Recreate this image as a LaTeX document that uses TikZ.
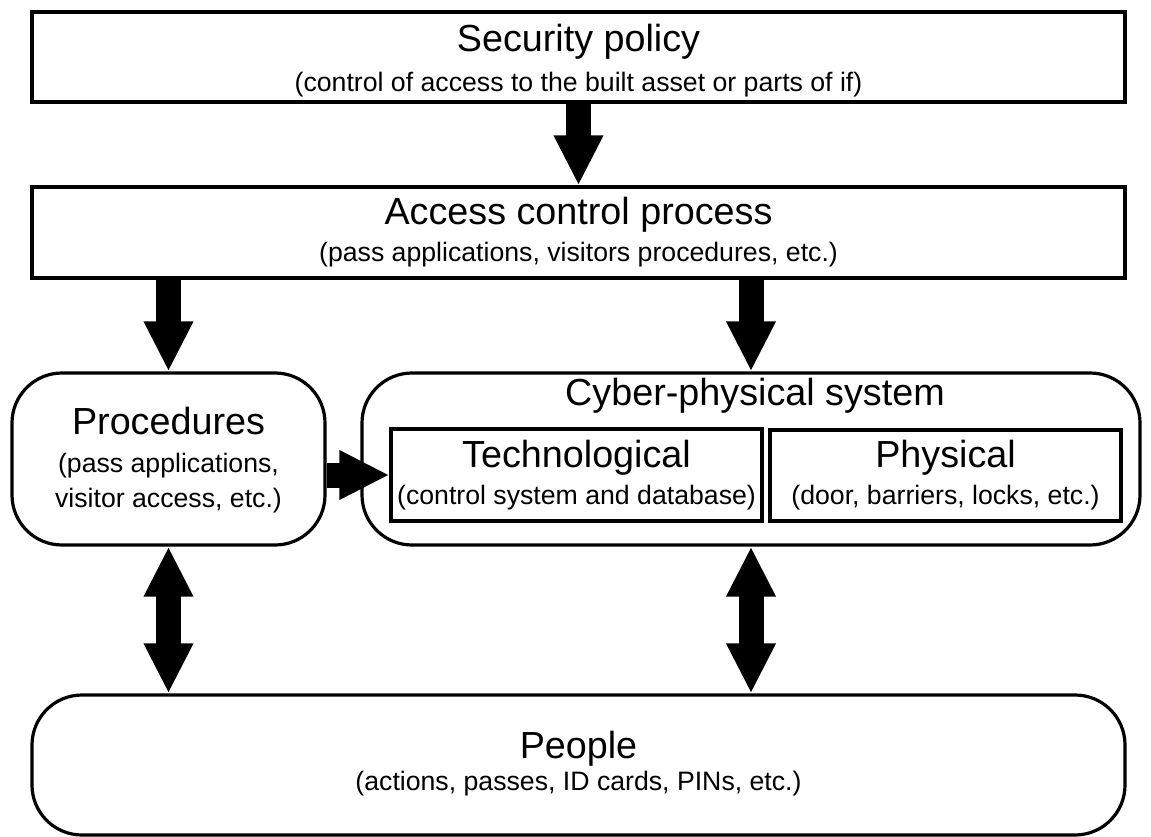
\documentclass[tikz,border=0pt]{standalone}
\usepackage{fontspec}
\setmainfont{Liberation Sans}
\usetikzlibrary{arrows.meta, positioning}
\newcommand{\pxu}{0.75pt}
\tikzset{box/.style = {
	draw, line width=2.4pt,
	rectangle, inner sep=0pt
	}}
\tikzset{rbox/.style = {box, rounded corners=37.5pt}}
\tikzset{title/.style = {anchor=base, font=\fontsize{28.3}{34}\selectfont}}
\tikzset{sub/.style = {anchor=base, font=\fontsize{20}{24}\selectfont}}
\tikzset{bigtip/.tip = {Triangle[width=34.5pt, length=37.5pt]}}
\tikzset{bigarrow/.style = {line width=18.75pt, -bigtip}}
\tikzset{bigboth/.style = {line width=18.75pt, bigtip-bigtip}}

\begin{document}
\begin{tikzpicture}[x=\pxu, y=-\pxu]

	\useasboundingbox (0,0) rectangle (1151,837);

	% Boxes
	\node (policy) [box, minimum width=1093*\pxu, minimum height=90*\pxu] at (578.5,57) {};
	\node (access) [box, minimum width=1093*\pxu, minimum height=91*\pxu] at (578.5,232.5) {};
	\node (proc) [rbox, minimum width=313*\pxu, minimum height=172*\pxu] at (168.5,459) {};
	\node (cps) [rbox, minimum width=778*\pxu, minimum height=172*\pxu] at (751,459) {};
	\node (tech) [box, minimum width=371*\pxu, minimum height=92*\pxu] at (576.5,475) {};
	\node (phys) [box, minimum width=351*\pxu, minimum height=91*\pxu] at (945.5,475.5) {};
	\node (people) [rbox, minimum width=1093*\pxu, minimum height=140*\pxu] at (578.5,765) {};

	% Texts
	\node (policytitle) [title] at (578.5,52) {Security policy};
	\node (policysub) [sub] at (578.5,92) {(control of access to the built asset or parts of if)};
	\node (accesstitle) [title] at (578.5,225) {Access control process};
	\node (accesssub) [sub] at (578.5,262) {(pass applications, visitors procedures, etc.)};
	\node (proctitle) [title] at (168.5,434) {Procedures};
	\node (procsuba) [sub] at (168.5,472) {(pass applications,};
	\node (procsubb) [sub] at (168.5,507) {visitor access, etc.)};
	\node (cpstitle) [title] at (755,405) {Cyber-physical system};
	\node (techtitle) [title] at (576.5,467) {Technological};
	\node (techsub) [sub] at (576.5,504) {(control system and database)};
	\node (phystitle) [title] at (945.5,467) {Physical};
	\node (physsub) [sub] at (945.5,504) {(door, barriers, locks, etc.)};
	\node (peopletitle) [title] at (578.5,758) {People};
	\node (peoplesub) [sub] at (578.5,790) {(actions, passes, ID cards, PINs, etc.)};

	% Arrows
	\draw [bigarrow] (policy) -- (access);
	\draw [bigarrow] (access.south -| proc.north) -- (proc.north);
	\draw [bigarrow] (access.south -| cps.north) -- (cps.north);
	\draw [bigarrow] (proc.east |- tech.west) -- (tech.west);
	\draw [bigboth] (proc.south) -- (proc.south |- people.north);
	\draw [bigboth] (cps.south) -- (cps.south |- people.north);

\end{tikzpicture}
\end{document}
